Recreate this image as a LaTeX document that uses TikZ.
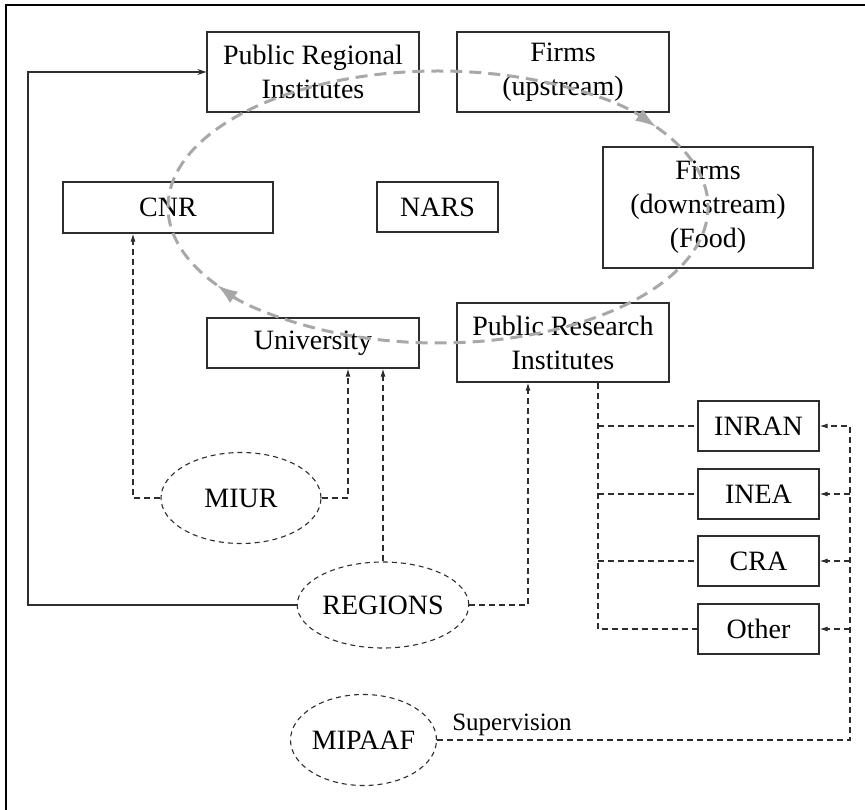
\documentclass[tikz,border=0pt]{standalone}
\usepackage{fontspec}
\setmainfont{Liberation Serif}
\usetikzlibrary{shapes.geometric,arrows.meta}
\definecolor{cyclegray}{RGB}{168,168,168}
\definecolor{boxline}{RGB}{45,45,45}
\tikzset{
  box/.style={draw=boxline,line width=1.2pt,rectangle,align=center,inner sep=0pt,
    font=\fontsize{28}{34}\selectfont},
  oval/.style={draw=boxline,line width=1.1pt,ellipse,inner sep=0pt,
    dash pattern=on 5pt off 4pt,font=\fontsize{28}{34}\selectfont},
  dline/.style={draw=boxline,line width=1.1pt,dash pattern=on 6pt off 4pt},
  sline/.style={draw=boxline,line width=1.2pt},
  smalltip/.style={-{Latex[length=8pt,width=5pt]}},
  cyc/.style={draw=cyclegray,line width=3pt,dash pattern=on 12pt off 7pt,
    -{Latex[length=21pt,width=14pt]}}
}
\begin{document}
\begin{tikzpicture}[x=1pt,y=-1pt]
\useasboundingbox (0,0) rectangle (865,810);
% frame (left and top edges)
\draw[line width=2pt] (6,810) -- (6,5) -- (865,5);

% nodes
\node[box,minimum width=212pt,minimum height=80pt] (pri) at (313,72) {Public Regional\\Institutes};
\node[box,minimum width=212pt,minimum height=80pt] (fu) at (563,72) {Firms\\(upstream)};
\node[box,minimum width=210pt,minimum height=121pt] (fd) at (708,207.5) {Firms\\(downstream)\\(Food)};
\node[box,minimum width=210pt,minimum height=51pt] (cnr) at (168,207.5) {CNR};
\node[box,minimum width=121pt,minimum height=50pt] (nars) at (437.5,207) {NARS};
\node[box,minimum width=212pt,minimum height=50pt] (univ) at (313,343) {University};
\node[box,minimum width=212pt,minimum height=79pt] (pres) at (563,342.5) {Public Research\\Institutes};
\node[box,minimum width=121pt,minimum height=50pt] (inran) at (758.5,426) {INRAN};
\node[box,minimum width=121pt,minimum height=50pt] (inea) at (758.5,494) {INEA};
\node[box,minimum width=121pt,minimum height=50pt] (cra) at (758.5,561) {CRA};
\node[box,minimum width=121pt,minimum height=50pt] (other) at (758.5,629) {Other};
\node[oval,minimum width=160pt,minimum height=91pt] (miur) at (241,498) {MIUR};
\node[oval,minimum width=157pt,minimum height=86pt] (regions) at (383,605) {REGIONS};
\node[oval,minimum width=137pt,minimum height=91pt] (mipaaf) at (363.5,740) {MIPAAF};

% helper coordinates
\coordinate (lc) at (28,72);
\coordinate (xa) at (133,0);
\coordinate (xb) at (348,0);
\coordinate (xc) at (528,0);
\coordinate (xd) at (598,0);
\coordinate (xs) at (850,0);
\coordinate (cc) at (438,207);

% gray cycle
\draw[cyc] ([shift={(135:270pt and 136pt)}]cc) arc[start angle=135,end angle=36,x radius=270pt,y radius=136pt];
\draw[cyc] ([shift={(36:270pt and 136pt)}]cc) arc[start angle=36,end angle=-145,x radius=270pt,y radius=136pt];
\draw[cyc,-] ([shift={(-145:270pt and 136pt)}]cc) arc[start angle=-145,end angle=-225,x radius=270pt,y radius=136pt];

% solid connector
\draw[sline,-{Stealth[length=9pt,width=6pt]}] (regions.west) -| (lc) -- (pri.west);

% MIUR
\draw[dline,smalltip] (miur.west) -| (cnr.south -| xa);
\draw[dline,smalltip] (miur.east) -| (univ.south -| xb);
% REGIONS
\draw[dline,smalltip] (regions.north) -- (regions.north |- univ.south);
\draw[dline,smalltip] (regions.east) -| (pres.south -| xc);
% Research institutes tree
\draw[dline] (pres.south -| xd) |- (other.west);
\draw[dline] (inran.west -| xd) -- (inran.west);
\draw[dline] (inea.west -| xd) -- (inea.west);
\draw[dline] (cra.west -| xd) -- (cra.west);
% MIPAAF supervision
\draw[dline,smalltip] (mipaaf.east) -| (inran.east -| xs) -- (inran.east);
\draw[dline,smalltip] (inea.east -| xs) -- (inea.east);
\draw[dline,smalltip] (cra.east -| xs) -- (cra.east);
\draw[dline,smalltip] (other.east -| xs) -- (other.east);
\node[anchor=base west,inner sep=0pt,font=\fontsize{25}{30}\selectfont] (sup) at ([xshift=15pt,yshift=10pt]mipaaf.east) {Supervision};
\end{tikzpicture}
\end{document}
